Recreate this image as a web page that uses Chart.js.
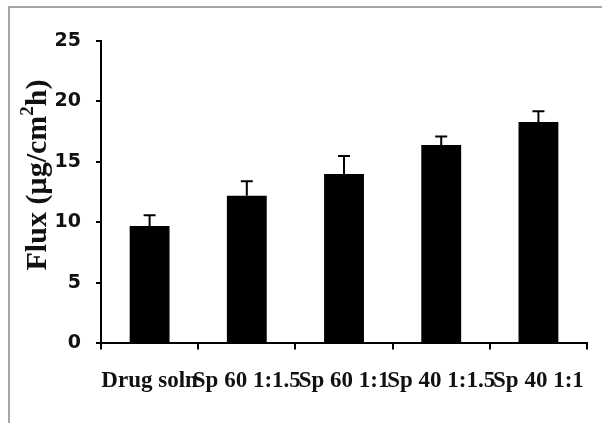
<!DOCTYPE html>
<html>
<head>
<meta charset="utf-8">
<script src="https://cdn.jsdelivr.net/npm/chart.js@4.4.0/dist/chart.umd.min.js"></script>
<style>
  html, body { margin: 0; padding: 0; background: #fff; overflow: hidden; }
  #wrap { position: relative; width: 602px; height: 423px; }
  #frame { position: absolute; left: 8px; top: 6px; width: 700px; height: 600px;
           border-top: 2px solid #a6a6a6; border-left: 2px solid #a6a6a6; }
  canvas { position: absolute; left: 0; top: 0; }
</style>
</head>
<body>
<div id="wrap">
  <div id="frame"></div>
  <canvas id="fluxChart" width="602" height="423"></canvas>
</div>
<script>
const categories = ['Drug soln', 'Sp 60 1:1.5', 'Sp 60 1:1', 'Sp 40 1:1.5', 'Sp 40 1:1'];
const fluxValues = [9.7, 12.2, 14.0, 16.4, 18.3];
const fluxErrors = [0.9, 1.2, 1.5, 0.7, 0.9];
const yTicks = [0, 5, 10, 15, 20, 25];

// upper error bars with a cap
const errorBars = {
    id: 'errorBars',
    afterDatasetsDraw(chart) {
        const ctx = chart.ctx;
        const yScale = chart.scales.y;
        const meta = chart.getDatasetMeta(0);
        ctx.save();
        ctx.strokeStyle = '#000';
        ctx.lineWidth = 2;
        meta.data.forEach((bar, i) => {
            const top = yScale.getPixelForValue(fluxValues[i] + fluxErrors[i]);
            ctx.beginPath();
            ctx.moveTo(bar.x, bar.y);
            ctx.lineTo(bar.x, top);
            ctx.moveTo(bar.x - 6, top);
            ctx.lineTo(bar.x + 6, top);
            ctx.stroke();
        });
        ctx.restore();
    }
};

// y axis title with a raised "2"
const yTitle = {
    id: 'yTitle',
    afterDraw(chart) {
        const ctx = chart.ctx;
        const parts = [['Flux (µg/cm', 30, 0], ['2', 19, -10], ['h)', 30, 0]];
        ctx.save();
        ctx.translate(36, 175);
        ctx.rotate(-Math.PI / 2);
        ctx.fillStyle = '#111';
        ctx.textBaseline = 'middle';
        let total = 0;
        parts.forEach(p => {
            ctx.font = 'bold ' + p[1] + 'px "Liberation Serif"';
            total += ctx.measureText(p[0]).width;
        });
        let x = -total / 2;
        parts.forEach(p => {
            ctx.font = 'bold ' + p[1] + 'px "Liberation Serif"';
            ctx.fillText(p[0], x, p[2] + 2);
            x += ctx.measureText(p[0]).width;
        });
        ctx.restore();
    }
};

const ctxBar = document.getElementById('fluxChart').getContext('2d');
new Chart(ctxBar, {
    type: 'bar',
    data: {
        labels: categories,
        datasets: [{
            data: fluxValues,
            backgroundColor: '#000',
            borderWidth: 0,
            barPercentage: 0.41,
            categoryPercentage: 1.0
        }]
    },
    options: {
        responsive: false,
        devicePixelRatio: 1,
        animation: false,
        layout: { padding: { left: 20, right: 2, top: 41, bottom: 10 } },
        plugins: { legend: { display: false }, tooltip: { enabled: false } },
        scales: {
            x: {
                border: { display: true, color: '#000', width: 2 },
                grid: { display: true, drawOnChartArea: false, drawTicks: true, tickLength: 6, color: '#000', lineWidth: 2 },
                ticks: {
                    autoSkip: false, maxRotation: 0, minRotation: 0, padding: 18,
                    color: '#111',
                    font: { family: 'Liberation Serif', size: 23, weight: 'bold' }
                }
            },
            y: {
                min: 0,
                max: 25,
                afterFit(scale) { scale.width = 81; },
                afterBuildTicks(scale) { scale.ticks = yTicks.map(v => ({ value: v })); },
                border: { display: true, color: '#000', width: 2 },
                grid: { display: true, drawOnChartArea: false, drawTicks: true, tickLength: 5, color: '#000', lineWidth: 2 },
                ticks: {
                    padding: 15,
                    color: '#111',
                    font: { family: 'DejaVu Sans', size: 19, weight: 'bold' }
                },
                title: { display: false }
            }
        }
    },
    plugins: [errorBars, yTitle]
});
</script>
</body>
</html>
